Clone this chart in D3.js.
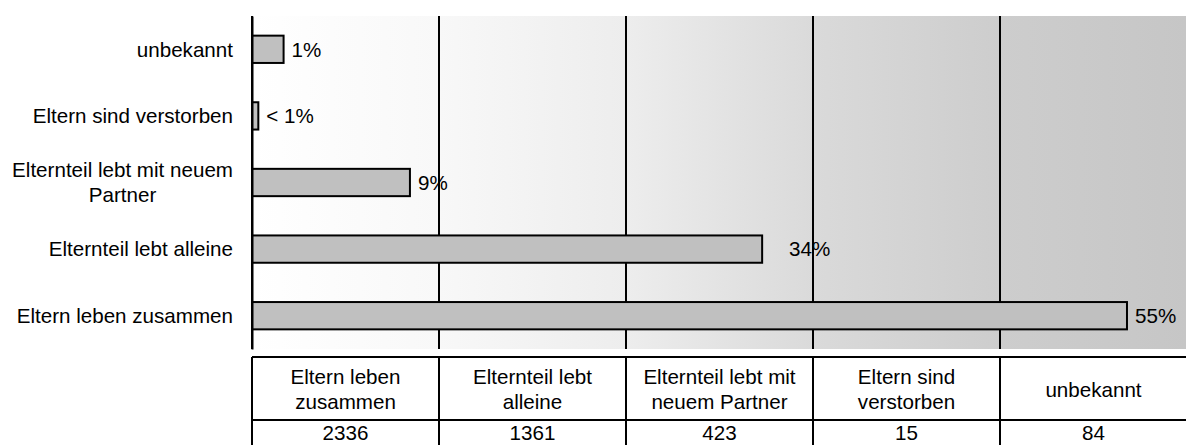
<!DOCTYPE html>
<html>
<head>
<meta charset="utf-8">
<script src="https://cdn.jsdelivr.net/npm/d3@7"></script>
<style>
  body { margin: 0; background: #fff; }
  svg text { font-family: "Liberation Sans", Arial, sans-serif; fill: #000; }
</style>
</head>
<body>
<div id="chart"></div>
<script>
// Data (order = table order, bottom bar first)
var categories = ["Eltern leben zusammen", "Elternteil lebt alleine", "Elternteil lebt mit neuem Partner", "Eltern sind verstorben", "unbekannt"];
var counts = [2336, 1361, 423, 15, 84];
var shares = [55.4, 32.3, 10.0, 0.4, 2.0];       // bar length in %
var shareLabels = ["55%", "34%", "9%", "< 1%", "1%"];
var labelValues = [55, 34, 9, 0, 1];              // value printed on label

// Layout
var width = 1186, height = 445;
var plotLeft = 252, plotRight = 1187, plotTop = 16, plotBottom = 349;
var tableTop = 357, headerBottom = 420, rowBottom = 470;
var fontSize = 20.6;

var svg = d3.select("#chart").append("svg")
  .attr("width", width)
  .attr("height", height);

var x = d3.scaleLinear().domain([0, 59.2]).range([plotLeft, plotRight]);
var y = d3.scaleBand()
  .domain(categories.slice().reverse())
  .range([plotTop, plotBottom])
  .paddingInner(0.59)
  .paddingOuter(0.295);
var col = d3.scaleBand().domain(categories).range([plotLeft, plotRight]);

/*
 * BACKGROUND
 * =============================== */

var grad = svg.append("defs").append("linearGradient")
  .attr("id", "bg")
  .attr("x1", "0%").attr("x2", "100%").attr("y1", "0%").attr("y2", "0%");
[[0, "#ffffff"], [0.2, "#f8f8f8"], [0.4, "#ededed"], [0.6, "#dadada"], [0.8, "#cdcdcd"], [1, "#c6c6c6"]]
  .forEach(function(s) {
    grad.append("stop").attr("offset", s[0]).attr("stop-color", s[1]);
  });

svg.append("rect")
  .attr("x", plotLeft).attr("y", plotTop)
  .attr("width", plotRight - plotLeft).attr("height", plotBottom - plotTop)
  .style("fill", "url(#bg)");

// column lines (line up with the table below)
svg.selectAll("line.grid")
  .data(categories)
  .enter().append("line")
  .attr("class", "grid")
  .attr("x1", function(d) { return col(d); })
  .attr("x2", function(d) { return col(d); })
  .attr("y1", plotTop).attr("y2", plotBottom)
  .style("stroke", "#000").style("stroke-width", 2);

/*
 * BARS
 * =============================== */

var rows = categories.map(function(c, i) {
  return { name: c, share: shares[i], label: shareLabels[i], value: labelValues[i] };
});

svg.selectAll("rect.bar")
  .data(rows)
  .enter().append("rect")
  .attr("class", "bar")
  .attr("x", x(0))
  .attr("y", function(d) { return y(d.name); })
  .attr("width", function(d) { return x(d.share) - x(0); })
  .attr("height", y.bandwidth())
  .style("fill", "#c0c0c0")
  .style("stroke", "#000")
  .style("stroke-width", 2);

// label sits past the bar end, or at its printed value if that is further out
svg.selectAll("text.val")
  .data(rows)
  .enter().append("text")
  .attr("class", "val")
  .attr("x", function(d) { return Math.max(x(d.share) + 8, x(d.value)); })
  .attr("y", function(d) { return y(d.name) + y.bandwidth() / 2; })
  .attr("dy", "0.35em")
  .style("font-size", fontSize + "px")
  .text(function(d) { return d.label; });

/*
 * AXIS
 * =============================== */

// split text into lines that fit maxWidth
var wrapLines = function(str, maxWidth) {
  var probe = svg.append("text").style("font-size", fontSize + "px");
  var words = str.split(" "), lines = [], line = [];
  words.forEach(function(w) {
    line.push(w);
    probe.text(line.join(" "));
    if (probe.node().getComputedTextLength() > maxWidth && line.length > 1) {
      line.pop();
      lines.push(line.join(" "));
      line = [w];
    }
  });
  lines.push(line.join(" "));
  var widths = lines.map(function(l) { probe.text(l); return probe.node().getComputedTextLength(); });
  probe.remove();
  return { lines: lines, width: d3.max(widths) };
};

var yAxis = svg.append("g")
  .attr("transform", "translate(" + plotLeft + ",0)")
  .call(d3.axisLeft(y).tickSize(0).tickFormat(""));
yAxis.select(".domain").style("stroke", "#000").style("stroke-width", 2);

var labelRight = 233;
yAxis.selectAll(".tick").each(function(d) {
  var w = wrapLines(d, 232);
  var t = d3.select(this).select("text")
    .text(null)
    .attr("dy", null)
    .style("font-size", fontSize + "px")
    .style("fill", "#000");
  var lh = 25;
  if (w.lines.length === 1) {
    t.attr("x", labelRight - plotLeft).attr("text-anchor", "end")
      .append("tspan").attr("dy", "0.35em").text(w.lines[0]);
  } else {
    var cx = labelRight - plotLeft - w.width / 2;
    t.attr("text-anchor", "middle");
    w.lines.forEach(function(l, i) {
      t.append("tspan")
        .attr("x", cx)
        .attr("y", (i - (w.lines.length - 1) / 2) * lh)
        .attr("dy", "0.35em")
        .text(l);
    });
  }
});

/*
 * DATA TABLE
 * =============================== */

var table = svg.append("g");
var lineStyle = function(sel) { return sel.style("stroke", "#000").style("stroke-width", 2); };

table.append("line")
  .attr("x1", plotLeft).attr("x2", plotRight)
  .attr("y1", tableTop).attr("y2", tableTop)
  .call(lineStyle);
table.append("line")
  .attr("x1", plotLeft).attr("x2", plotRight)
  .attr("y1", headerBottom).attr("y2", headerBottom)
  .call(lineStyle);
table.selectAll("line.col")
  .data(categories)
  .enter().append("line")
  .attr("class", "col")
  .attr("x1", function(d) { return col(d); })
  .attr("x2", function(d) { return col(d); })
  .attr("y1", tableTop).attr("y2", rowBottom)
  .call(lineStyle);

var headerMid = (tableTop + headerBottom) / 2 + 1;
categories.forEach(function(c) {
  var w = wrapLines(c, 165);
  var t = table.append("text")
    .attr("text-anchor", "middle")
    .style("font-size", fontSize + "px");
  w.lines.forEach(function(l, i) {
    t.append("tspan")
      .attr("x", col(c) + col.bandwidth() / 2)
      .attr("y", headerMid + (i - (w.lines.length - 1) / 2) * 25)
      .attr("dy", "0.35em")
      .text(l);
  });
});

table.selectAll("text.count")
  .data(counts)
  .enter().append("text")
  .attr("class", "count")
  .attr("x", function(d, i) { return col(categories[i]) + col.bandwidth() / 2; })
  .attr("y", headerBottom + 13)
  .attr("dy", "0.35em")
  .attr("text-anchor", "middle")
  .style("font-size", fontSize + "px")
  .text(function(d) { return d; });
</script>
</body>
</html>
